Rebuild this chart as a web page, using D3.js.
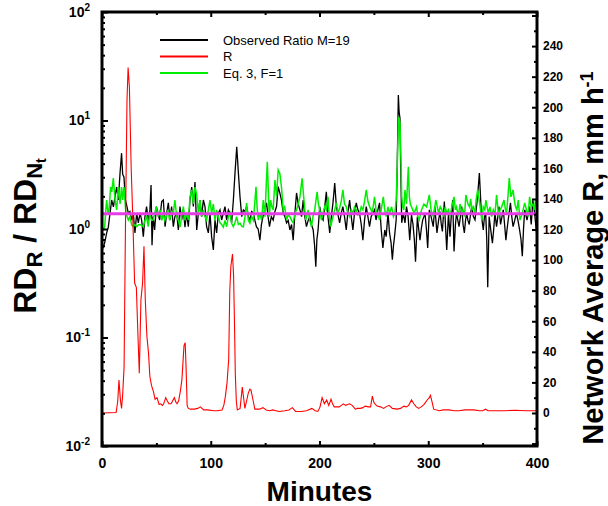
<!DOCTYPE html>
<html>
<head>
<meta charset="utf-8">
<title>Observed ratio and rain rate</title>
<style>

body {
  margin: 0;
  background: #fff;
}

svg {
  display: block;
  font-family: 'Liberation Sans', Arial, sans-serif;
}

.axis text {
  font-weight: bold;
  fill: #000;
}

</style>
</head>
<body>
<svg width="608" height="506"></svg>
<script src="https://cdn.jsdelivr.net/npm/d3@7"></script>
<script>

// -------------------------------------------------------------------------
// DATA
// -------------------------------------------------------------------------
// observed ratio RD_R / RD_Nt, [minute, ratio]
var observed = [
  [0,0.65],[1.2,0.68],[2.5,0.75],[4.3,0.92],[5.8,1.04],[7.4,1.4],[8.9,1.85],[10.5,1.6],[12,2.0],[13.5,2.44],
  [15,1.85],[16.6,3.28],[18,5.0],[19,3.2],[20.2,3.0],[21.5,1.85],[22.7,1.65],[24.2,1.4],[25.7,1.45],[27.3,1.21],
  [28.8,1.4],[30.3,0.92],[31.9,1.4],[33.4,1.14],[35,1.4],[36.5,1.2],[38,0.85],[39.5,1.3],[41,1.61],[42.5,1.2],
  [44,1.45],[45.1,2.54],[46,0.71],[47,1.3],[48.4,0.98],[50,1.61],[51.5,1.4],[53,1.21],[54.9,1.79],[56.4,1.85],
  [58,1.05],[59.5,1.4],[61,1.74],[62.5,1.21],[64,1.61],[65.6,1.05],[67,1.3],[68.7,1.4],[70.2,0.98],[71.7,1.61],
  [73.3,1.21],[74.8,1.5],[76.3,1.04],[77.8,1.4],[79.4,1.05],[80.9,1.85],[82.5,2.44],[84,1.61],[85.5,2.71],[87.1,0.98],
  [88.6,1.4],[90.1,1.85],[91.6,1.3],[93.2,1.85],[94.7,1.61],[96.2,1.05],[97.8,0.92],[99.3,1.4],[100.8,0.85],[102.4,0.64],
  [103.9,1.21],[105.4,0.92],[107,1.4],[108.5,1.5],[110,1.21],[111.6,1.4],[113.1,1.61],[114.6,1.21],[116.2,1.5],[117.7,1.4],
  [119.2,1.14],[120.8,1.85],[122.3,3.28],[123.9,5.73],[125.4,3.3],[126.9,1.98],[128.5,1.3],[130,1.5],[131.5,1.45],[133,1.61],
  [134.6,1.3],[136,1.21],[137.6,1.45],[139.2,1.4],[140.6,1.2],[142,1.05],[143.6,1.0],[145.2,0.79],[146.6,1.1],[148,1.3],
  [149.7,1.5],[151.3,1.74],[152.7,1.3],[154,1.05],[155.7,1.3],[157.4,1.21],[159,1.45],[160.5,1.61],[162,2.45],[163.5,2.15],
  [165,1.85],[166.6,1.4],[168.2,1.3],[169.7,1.14],[171.2,1.2],[172.8,0.98],[174.3,1.1],[175.8,0.79],[177.4,1.4],[178.9,2.15],
  [180.4,1.7],[182,1.5],[183.5,1.3],[185,1.85],[186.5,1.3],[188,1.05],[189.6,1.2],[191,1.3],[192.6,1.1],[194.2,0.98],
  [195.5,0.7],[196.6,0.45],[197.6,0.8],[198.7,0.98],[200.2,1.61],[201.8,1.3],[203.3,1.21],[204.8,1.6],[206.3,2.2],[207.8,1.3],
  [209.4,0.92],[210.9,1.3],[212.4,1.74],[214,2.65],[215.5,1.61],[217,1.35],[218.5,1.14],[220,1.4],[221.5,1.61],[223,1.3],
  [224.6,0.98],[226,1.4],[227.7,1.85],[229.2,1.3],[230.7,0.98],[232.2,1.4],[233.8,1.74],[235.3,1.5],[236.8,1.4],[238.4,1.1],
  [239.9,0.79],[241.4,1.2],[243,1.61],[244.5,1.3],[246,1.05],[247.5,1.3],[249,1.4],[250.6,1.5],[252,1.21],[253.7,1.5],
  [255.2,1.74],[256.7,1.0],[258.3,0.67],[260,0.98],[261.3,0.85],[263,1.4],[264.4,0.92],[265.8,0.75],[267,0.52],[268,0.7],
  [269,0.85],[270.5,1.21],[271.5,4],[272.5,17.2],[273.2,12],[274,10.5],[274.6,4],[275.6,1.14],[277,1.4],[278.6,1.14],
  [280,1.61],[281.5,1.3],[283,0.79],[284.6,1.35],[286,1.1],[287.2,0.8],[288.3,0.5],[290,1.3],[291.2,1.0],[292.4,0.79],
  [293.6,1.0],[294.8,1.2],[296,1.3],[297,1.4],[298.3,1.0],[299.5,0.67],[301,1.5],[302.6,1.3],[304.6,1.05],[306,1.61],
  [308,0.92],[309.5,1.2],[310.8,1.45],[312,1.1],[313,0.95],[314.8,1.79],[316,1.0],[317,0.64],[318.6,1.4],[320,0.85],
  [321.3,1.4],[322.5,1.85],[323.7,0.62],[325,1.1],[326,1.4],[327.2,1.2],[328.3,1.05],[329.6,1.3],[330.8,1.61],[332,1.1],
  [333.2,0.92],[334.3,1.2],[335.3,1.4],[336.5,1.2],[337.7,1.1],[339,1.4],[340,1.61],[341.5,1.3],[343,1.21],[344,1.5],
  [345.1,1.85],[347,3.28],[348.5,1.61],[349.5,1.2],[350.6,0.98],[351.7,1.3],[352.8,1.4],[353.8,0.8],[354.7,0.29],[356,1.3],
  [357.8,0.92],[359,0.74],[360.2,1.0],[361.3,1.4],[362.8,1.05],[364,1.3],[365,1.61],[366.5,1.1],[367.8,1.3],[369,1.5],
  [370.2,1.1],[371.4,0.79],[372.5,1.0],[373.5,1.21],[375.6,1.74],[376.8,1.3],[378,1.05],[379.5,1.2],[381,1.4],[382.5,1.2],
  [384,0.98],[385.3,0.8],[386.5,0.56],[387.6,1.0],[388.7,1.5],[390.8,1.21],[392,1.4],[393.2,1.61],[394.7,1.1],[396.2,1.85],
  [397.8,1.4],[399.3,0.98],[400,0.85]
];

// network average rain rate R (mm/h), [minute, R]
var rainRate = [
  [0,0],[13,0.3],[14.5,8],[15.6,21.5],[17,8],[18,3],[19,12],[20.3,30],[21.5,117],[23,205],
  [24,226],[25.2,213],[26.8,161],[28.3,128],[30,85],[31.6,82],[33,52],[34.3,26],[35.8,74],[37.3,85],
  [38.6,109],[39.8,74],[41.3,50],[42.8,39],[44,24],[45.5,18],[47.3,14],[48.8,9],[50.6,10],[52.5,5.6],
  [54,6],[55.5,5],[56.7,6],[58.6,10],[60,8],[61.5,6],[63.5,6],[65,8],[66.5,10],[68,7],
  [69,6],[70.5,8],[72.2,15],[73.5,22],[75.4,44],[76.5,46],[77.3,30],[78.3,5],[79.3,3],[81.3,2.5],
  [85,2.5],[88,3],[90.5,4],[93.5,2],[97,2],[102.7,1.5],[106,1.5],[110.4,2],[112,5],[113.4,10.5],
  [115,20],[116.5,35],[117.5,80],[118.5,96],[120,104],[121,90],[121.8,60],[122.6,25],[123.5,8],[124.4,2],
  [127,3],[129,17],[130.2,10],[131.4,3],[133,8],[134.5,13],[136,15.6],[137,15],[139,8],[140.5,2.5],
  [145,2.5],[148,3.5],[151,2],[154,1.5],[157,2],[160,1.5],[163,1],[168,1.5],[172,2],[175,3.5],
  [178,1],[183,1],[188,1.5],[193,3],[196,1.5],[198.5,1],[200.5,4],[202.4,10],[204.5,6],[206.6,8.5],
  [208.5,5],[210.6,9],[212,6],[213.6,4],[216,4],[218.2,4],[220,5],[222,6],[224,5],[226,5.5],
  [227.7,6],[230,5],[233,2.5],[235,3],[237.6,3],[240,3.5],[242,4.5],[245,4],[247,4],[248.6,11],
  [250,7],[251,6],[253,4.5],[256,4],[259,3],[261,4],[264,5],[267,3],[271.5,2.5],[274.5,3],
  [277.6,4.5],[280,4],[282,5],[284.6,8.5],[286.7,6],[289,4],[291.3,3],[293.5,4],[296,5.5],[299,8.5],
  [301,10],[302,11.5],[303.6,7],[305,2.5],[310,1.5],[314,2],[319,2],[324,1.5],[328,1.5],[334,2],
  [342,2],[347,1.5],[350,1.5],[352.7,2.5],[355,1.5],[360,1.5],[370,1.5],[380,1.8],[390,1.5],[398,1.5],
  [400,1.6]
];

// Eq. 3 with F=1, [minute, ratio]
var eq3 = [
  [1.2,0.98],[2.5,1.05],[3.5,1.5],[4.3,1.85],[5.5,1.4],[6.5,1.5],[7.9,2.44],[9,2.2],[10.4,2.95],[12,1.85],
  [13.5,1.5],[15,2.44],[16.6,1.7],[18,2.44],[19,1.85],[20.2,2.44],[22,1.4],[24.2,1.21],[25.7,1.3],[27.3,1.09],
  [28.8,1.05],[30.3,1.1],[31.9,1.05],[33.4,1.09],[34.6,1.1],[36.5,1.08],[38,1.05],[39.5,1.2],[41,1.3],[42.5,1.05],
  [44,1.4],[45.5,1.2],[47,1.21],[48.5,1.4],[50,1.61],[51.5,1.3],[53.4,1.5],[55,1.2],[56.4,1.4],[57.8,1.2],
  [59.2,1.3],[60.7,1.5],[62.2,1.2],[64,1.45],[65.6,1.4],[67,1.85],[68.7,1.3],[70.2,1.2],[71.7,1.04],[73.3,1.3],
  [74.8,1.61],[76.3,1.2],[77.8,1.4],[79.4,1.21],[80.9,1.97],[82.5,2.29],[84,1.7],[85.5,2.44],[87,2.1],[88.6,1.4],
  [90.1,1.85],[91.6,1.3],[93.2,1.5],[94.7,1.3],[96.2,1.21],[97.8,1.5],[99.3,1.85],[100.8,1.4],[102.4,1.7],[103.9,1.2],
  [105.4,1.5],[107,1.3],[108.5,1.14],[110,1.1],[111.6,1.04],[113.1,1.2],[114.6,1.05],[116.2,1.3],[117.7,1.4],[119.2,1.13],
  [120.8,1.05],[122.3,1.15],[123.8,1.3],[125.4,1.1],[127,1.13],[128.5,1.06],[130,1.05],[131.5,1.3],[133,1.73],[134.6,1.2],
  [136,1.13],[137.6,1.3],[139.2,1.2],[140.6,1.8],[141.6,2.45],[142.6,1.6],[143.7,1.21],[145.2,1.4],[146.7,1.21],[148.3,1.85],
  [149.8,1.3],[151,2.5],[152,4.17],[153,2.2],[153.8,1.3],[155,1.85],[156.2,1.6],[157.4,1.5],[159,2.83],[160.5,2.0],
  [162,3.5],[163.5,3.26],[165,2.45],[166.6,1.5],[168,1.6],[169.7,1.21],[171.2,1.35],[172.8,1.3],[174.3,1.2],[175.8,1.14],
  [177.4,1.4],[178.9,1.5],[180.4,1.7],[182,1.98],[184,2.93],[185.6,1.9],[187.4,1.21],[189.5,1.5],[191,1.2],[192.6,1.05],
  [194,1.3],[195.6,1.5],[197.8,2.2],[199,1.7],[200.2,1.5],[201.8,1.21],[203.3,1.4],[204.8,1.61],[206.3,1.5],[207.8,1.98],
  [209,1.3],[210.3,1.05],[212.4,1.3],[214,1.5],[215.5,1.74],[217,1.4],[218.5,1.55],[220,1.8],[221.5,2.29],[223,1.7],
  [224.6,1.61],[226,1.4],[227.7,1.3],[229.2,1.5],[230.7,1.4],[232.2,1.6],[233.8,1.5],[235.3,1.35],[236.8,1.4],[238.4,1.6],
  [239.9,1.5],[241.4,1.8],[243,2.29],[244.5,1.8],[246,1.61],[247.5,1.5],[248.5,1.4],[250.6,1.98],[252,1.5],[253.7,1.35],
  [255.2,1.21],[256.7,1.5],[258.7,1.98],[260,1.5],[261.3,1.3],[263,1.6],[264.4,1.4],[266.3,1.6],[268,1.3],[269.3,1.4],
  [270.5,1.85],[271.5,3.8],[272.7,10.8],[274,9.5],[275,4.05],[275.6,2.0],[276.5,1.6],[277.5,1.5],[278.6,2.29],[280,1.7],
  [281.7,3.75],[282.6,2.0],[283.5,1.7],[284.6,1.6],[287,1.4],[289.3,1.6],[290.5,1.3],[291.7,1.21],[293.8,1.5],[296,1.7],
  [298.5,1.6],[301,2.06],[302.6,1.5],[304.6,1.3],[307,1.85],[309.5,1.4],[311,1.6],[312.5,1.5],[314,1.3],[315.6,1.6],
  [317,1.4],[318.6,1.5],[320,1.3],[321.7,1.6],[323.7,1.98],[325,1.5],[326,1.6],[327.7,1.3],[329.2,1.7],[331,1.4],
  [332,1.5],[333.3,1.3],[334.6,2.06],[336.5,1.7],[338,1.6],[339,1.9],[340.2,1.5],[341.5,1.6],[343,1.4],[344,1.85],
  [345.5,2.29],[347.7,1.6],[349.2,1.21],[350.6,1.6],[352,1.5],[353,1.85],[355.2,1.4],[356.8,1.6],[358.3,1.3],[359.8,1.5],
  [361.3,1.35],[362.8,2.06],[364.8,1.3],[366,1.5],[367.5,1.6],[369.7,1.85],[371,1.5],[372,1.4],[373.3,2.0],[374.5,2.95],
  [376,1.98],[377,2.1],[378,2.29],[379.3,1.8],[380.3,1.6],[381.5,1.5],[382.8,1.85],[384.3,1.21],[385.4,1.3],[386.5,1.4],
  [388.7,1.74],[390.3,1.5],[391.8,1.3],[393.2,1.98],[394.7,1.6],[396.2,1.7],[397.5,1.5],[398.7,1.85],[400,1.66]
];

var meanRatio = 1.38;

var xMajor = [0, 100, 200, 300, 400],
    xMinor = [50, 150, 250, 350],
    leftDecades = [0.01, 0.1, 1, 10, 100],
    rightMajor = [-20, 0, 20, 40, 60, 80, 100, 120, 140, 160, 180, 200, 220, 240, 260],
    rightLabelled = [0, 240];

var legendLabels = ["Observed Ratio M=19", "R", "Eq. 3, F=1"],
    legendColors = ["#000", "#ff0000", "#00ee00"];

// -------------------------------------------------------------------------
// SETUP
// -------------------------------------------------------------------------
var svg = d3.select("svg"),
    plot = { left: 102, right: 537, top: 12, bottom: 446 };

var x = d3.scaleLinear().domain([0, 400]).range([plot.left, plot.right]),
    yL = d3.scaleLog().domain([0.01, 100]).range([plot.bottom, plot.top]),
    yR = d3.scaleLinear().domain([-21.6, 262.3]).range([plot.bottom, plot.top]);

var leftMinor = [];
leftDecades.slice(0, -1).forEach(function(d) {
  for (var k = 2; k < 10; k++) leftMinor.push(d * k);
});
var rightMinor = d3.range(-10, 262, 20);

// -------------------------------------------------------------------------
// LINES
// -------------------------------------------------------------------------
var lineL = d3.line().x(function(d) { return x(d[0]); }).y(function(d) { return yL(d[1]); }),
    lineR = d3.line().x(function(d) { return x(d[0]); }).y(function(d) { return yR(d[1]); });

svg.append("path").datum(observed)
    .attr("d", lineL).attr("fill", "none")
    .attr("stroke", "#000").attr("stroke-width", 1.3);

svg.append("path").datum(eq3)
    .attr("d", lineL).attr("fill", "none")
    .attr("stroke", "#00ee00").attr("stroke-width", 1.5);

svg.append("path").datum(rainRate)
    .attr("d", lineR).attr("fill", "none")
    .attr("stroke", "#ff0000").attr("stroke-width", 1.1);

svg.append("path").datum([[0, meanRatio], [400, meanRatio]])
    .attr("d", lineL).attr("fill", "none")
    .attr("stroke", "#e63ce6").attr("stroke-width", 3);

// -------------------------------------------------------------------------
// AXES
// -------------------------------------------------------------------------
function clean(g) {
  g.select(".domain").remove();
  g.selectAll(".tick line").attr("stroke", "#000").attr("stroke-width", 2);
}

// bottom
svg.append("g").attr("class", "axis")
    .attr("transform", "translate(0," + plot.bottom + ")")
    .call(d3.axisBottom(x).tickValues(xMinor).tickSizeInner(-3).tickSizeOuter(0).tickFormat(""))
    .call(clean);
svg.append("g").attr("class", "axis")
    .attr("transform", "translate(0," + plot.bottom + ")")
    .call(d3.axisBottom(x).tickValues(xMajor).tickSizeInner(-5).tickSizeOuter(0).tickPadding(12))
    .call(clean)
    .selectAll("text").style("font-size", "14px");

// top
svg.append("g").attr("class", "axis")
    .attr("transform", "translate(0," + plot.top + ")")
    .call(d3.axisTop(x).tickValues(xMinor).tickSizeInner(-3).tickSizeOuter(0).tickFormat(""))
    .call(clean);
svg.append("g").attr("class", "axis")
    .attr("transform", "translate(0," + plot.top + ")")
    .call(d3.axisTop(x).tickValues(xMajor).tickSizeInner(-5).tickSizeOuter(0).tickFormat(""))
    .call(clean);

// left (log)
svg.append("g").attr("class", "axis")
    .attr("transform", "translate(" + plot.left + ",0)")
    .call(d3.axisLeft(yL).tickValues(leftMinor).tickSizeInner(-3).tickSizeOuter(0).tickFormat(""))
    .call(clean);
svg.append("g").attr("class", "axis")
    .attr("transform", "translate(" + plot.left + ",0)")
    .call(d3.axisLeft(yL).tickValues(leftDecades).tickSizeInner(-6).tickSizeOuter(0).tickPadding(12).tickFormat(""))
    .call(clean)
  .selectAll(".tick text")
    .style("font-size", "14px")
    .each(function(d) {
      var t = d3.select(this);
      t.append("tspan").text("10");
      t.append("tspan").attr("dy", "-0.6em").style("font-size", "10px")
          .text(Math.round(Math.log10(d)));
    });

// right (rain rate)
svg.append("g").attr("class", "axis")
    .attr("transform", "translate(" + plot.right + ",0)")
    .call(d3.axisRight(yR).tickValues(rightMinor).tickSizeInner(-3).tickSizeOuter(0).tickFormat(""))
    .call(clean);
svg.append("g").attr("class", "axis")
    .attr("transform", "translate(" + plot.right + ",0)")
    .call(d3.axisRight(yR).tickValues(rightMajor).tickSizeInner(-5).tickSizeOuter(0).tickPadding(6)
      .tickFormat(function(d) { return d >= rightLabelled[0] && d <= rightLabelled[1] ? d : ""; }))
    .call(clean)
    .selectAll("text").style("font-size", "12px");

// frame
svg.append("rect")
    .attr("x", plot.left).attr("y", plot.top)
    .attr("width", plot.right - plot.left).attr("height", plot.bottom - plot.top)
    .attr("fill", "none").attr("stroke", "#000").attr("stroke-width", 3);

// -------------------------------------------------------------------------
// TITLES
// -------------------------------------------------------------------------
svg.append("text")
    .attr("x", (plot.left + plot.right) / 2).attr("y", 501)
    .attr("text-anchor", "middle")
    .style("font-size", "28px").style("font-weight", "bold")
    .text("Minutes");

var lt = svg.append("text")
    .attr("transform", "translate(36,236) rotate(-90)")
    .attr("text-anchor", "middle")
    .style("font-size", "32px").style("font-weight", "bold");
lt.append("tspan").text("RD");
lt.append("tspan").attr("dy", 6).style("font-size", "22px").text("R");
lt.append("tspan").attr("dy", -6).text(" / RD");
lt.append("tspan").attr("dy", 6).style("font-size", "22px").text("N");
lt.append("tspan").attr("dy", 4).style("font-size", "14px").text("t");

var rt = svg.append("text")
    .attr("transform", "translate(603,258) rotate(-90)")
    .attr("text-anchor", "middle")
    .style("font-size", "29px").style("font-weight", "bold");
rt.append("tspan").text("Network Average R, mm h");
rt.append("tspan").attr("dy", -10).style("font-size", "18px").text("-1");

// -------------------------------------------------------------------------
// LEGEND
// -------------------------------------------------------------------------
var legend = svg.append("g").selectAll("g")
    .data(legendLabels)
  .enter().append("g")
    .attr("transform", function(d, i) { return "translate(160," + (40 + i * 16.5) + ")"; });

legend.append("line")
    .attr("x1", 0).attr("x2", 48)
    .attr("stroke", function(d, i) { return legendColors[i]; })
    .attr("stroke-width", 2);

legend.append("text")
    .attr("x", 63).attr("dy", "0.35em")
    .style("font-size", "13px")
    .text(function(d) { return d; });

</script>
</body>
</html>
